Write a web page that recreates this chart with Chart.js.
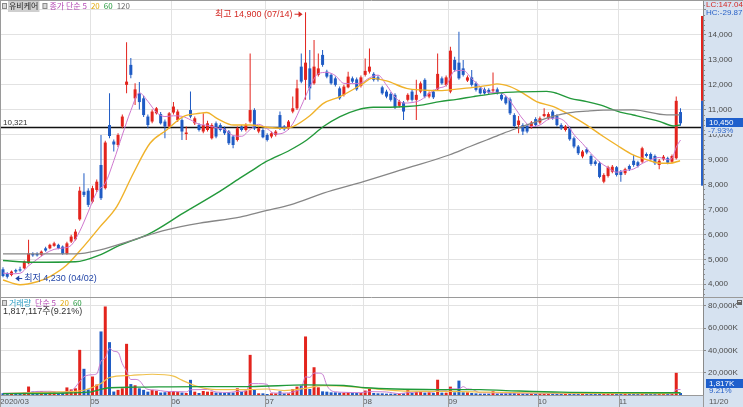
<!DOCTYPE html>
<html>
<head>
<meta charset="utf-8">
<script src="https://cdn.jsdelivr.net/npm/chart.js@4.4.1/dist/chart.umd.min.js"></script>
<style>
  html, body { margin: 0; padding: 0; background: #fff; }
  #wrap { position: relative; width: 743px; height: 407px; overflow: hidden; }
  canvas { position: absolute; left: 0; }
  #price { top: 0; }
  #vol { top: 297px; }
</style>
</head>
<body>
<div id="wrap">
  <canvas id="price" width="743" height="297"></canvas>
  <canvas id="vol" width="743" height="110"></canvas>
</div>
<script>
// x axis: trading-day index, 0 = 2020/04/01 ... 159 = 2020/11/20
const monthLabels = ["2020/03", "05", "06", "07", "08", "09", "10", "11"];
const monthAt = [-0.7, 20.5, 39.5, 61.5, 84.5, 104.5, 125.5, 144.5];
const priceTicks = [4000, 5000, 6000, 7000, 8000, 9000, 10000, 11000, 12000, 13000, 14000, 15000];
const volTicks = [20000, 40000, 60000, 80000];

const open = [4600,4440,4370,4570,4600,4640,4840,5220,5220,5180, 5440,5440,5540,5580,5510,5220,5710,5800,6600,7710,
  7750,7310,7780,8780,7850,10380,9720,9580,10320,11990, 12790,11450,11650,11450,10720,10520,10850,10820,10520,10320,
  10880,10580,10580,10020,10980,10450,10380,10120,10180,9850, 10450,10380,10250,10120,9920,9780,10320,10180,10520,10980,
  10120,10180,9980,9920,9980,10780,10320,10250,10920,11050, 12720,12190,12650,12050,12390,13190,12520,12390,12250,11850,
  11590,11890,12250,12210,11950,12390,12520,12430,12290,11890, 11720,11630,11590,11150,11280,11390,11720,11390,11720,12190,
  11520,11720,11810,12250,11990,11720,12990,12880,12650,12160, 12290,12050,11850,11810,11790,11760,11810,11590,11490,11410,
  10780,10380,10380,10340,10290,10620,10480,10740,10650,10920, 10740,10380,10180,10250,9850,9520,9120,9410,9140,8920,
  8850,8110,8340,8510,8690,8510,8450,8740,8950,8890, 8910,9220,9220,9140,8780,9010,9050,8910,9050,10900];
const high = [4680,4480,4550,4620,4700,4950,5780,5280,5280,5350, 5500,5620,5700,5620,5550,5700,5980,6200,7910,8450,
  7850,7950,8200,9980,9750,11650,9800,10050,10800,13700, 13070,12050,12100,11550,10800,11000,11100,10900,10600,10900,
  11300,11000,10650,10320,11720,10720,10450,10850,10550,10450, 10520,10450,10320,10180,9980,10320,10380,10450,13250,11050,
  10320,10250,10050,10120,10180,10920,10380,10580,11520,12190, 13250,14900,13390,13790,13250,13390,12600,12450,12320,11920,
  11990,12520,12320,12280,12360,13050,13450,12500,12360,11950, 11790,11690,11650,11390,11340,11650,11790,12190,12120,12250,
  11720,11790,13250,12320,12360,13520,13120,14120,12990,12360, 12590,12120,11920,11880,11850,12490,11880,11650,11550,11480,
  10850,10740,10450,10410,10540,10690,10720,11050,10890,10980, 10810,10450,10380,10320,9920,9580,9380,9480,9210,8980,
  8920,8450,8750,8780,8740,8580,8670,8800,9180,8950, 9510,9280,9280,9200,9020,9180,9110,9200,11520,11050];
const low = [4280,4230,4320,4450,4500,4600,4800,5100,5110,5120, 5300,5400,5500,5400,5180,5180,5650,5750,6550,7500,
  7100,7250,7700,7380,7800,9850,9320,9500,10250,11650, 12250,11180,11000,10700,10250,10450,10800,10400,9850,10250,
  10800,10500,9780,9780,10650,10380,10120,10050,10120,9800, 9850,10120,9980,9580,9450,9720,10120,10120,10450,10180,
  10050,9850,9720,9850,9920,10180,10150,10180,10850,10980, 12050,11390,11390,11990,12320,12720,12250,11990,11920,11390,
  11520,11850,12050,11750,11880,12320,12450,12120,12120,11590, 11450,11320,11020,11080,10580,11320,11320,10580,11650,11450,
  11450,11420,11750,11990,11920,11650,12520,12190,12320,12100, 11920,11720,11600,11600,11620,11650,11600,11350,11190,10780,
  10280,10050,9980,10050,10230,10320,10410,10690,10590,10590, 10320,10180,10120,9750,9450,9180,9050,9210,8750,8750,
  8250,8050,8280,8450,8320,8110,8380,8540,8710,8680, 8850,9080,8950,8780,8610,8950,8810,8850,9000,10350];
const close = [4330,4300,4510,4510,4550,4910,5240,5160,5160,5310, 5350,5580,5640,5440,5220,5640,5910,6110,7750,7580,
  7180,7850,8110,7450,9680,9940,9600,9980,10720,12120, 12390,11810,11300,10780,10380,10920,11050,10450,10320,10850,
  11120,10920,10120,10080,10720,10650,10180,10380,10450,10380, 9920,10180,10050,9650,9580,10250,10180,10380,10980,10250,
  10250,9890,9780,10050,10120,10250,10210,10520,11050,11850, 12120,12880,11850,12720,12650,12790,12320,12050,11990,11450,
  11920,12320,12120,11810,12290,12550,12720,12190,12190,11650, 11520,11390,11090,11320,10920,11590,11390,11590,12050,11520,
  11650,11490,12430,12050,12290,13360,12590,12250,12390,12290, 11990,11790,11650,11650,11680,11810,11650,11410,11250,10850,
  10340,10560,10120,10120,10480,10380,10650,10820,10820,10650, 10380,10250,10320,9810,9520,9250,9320,9280,8820,8820,
  8300,8380,8690,8710,8380,8380,8610,8610,8780,8740, 9450,9140,9010,8850,8950,9110,8870,9140,11350,10450];
// volume in thousands of shares
const volume = [1600,1800,1400,1600,1400,2200,7600,3100,3100,3600, 2800,2800,2500,1800,1800,6800,5000,6000,40500,23500,
  5000,16600,9400,57000,79400,47400,3100,4600,6000,45900, 9800,8700,6000,4600,3000,4600,3800,2200,2500,3000,
  3600,3000,2200,1800,13600,3000,1800,3600,3000,3000, 2200,2200,1800,2500,2200,6000,2900,4000,36000,4500,
  1500,1500,900,1500,1500,3300,1500,1500,5400,7500, 8400,52500,5400,24900,6900,3300,3000,2400,2400,2100,
  2100,2700,2100,1800,1800,4000,5400,1800,1500,1500, 1200,1200,1200,1200,1500,5400,1800,3000,3000,2100,
  2400,1800,13700,2100,2100,7500,2400,12900,2400,2400, 1800,1500,1200,1200,1200,3400,1300,1500,1500,1800,
  2000,1500,1300,1200,1200,1200,1300,1500,1200,1200, 1300,1100,1000,1300,1400,1300,1200,1000,1300,1000,
  1500,1300,1400,1100,1200,1000,1000,900,1200,900, 1800,1000,900,1000,1100,900,900,1100,19900,1817];

// moving averages: [index, value]
const ma5 = [[0,4450],[2,4420],[4,4440],[6,4740],[8,5000],[10,5240],[12,5400],[14,5450],[16,5560],[18,6120],[20,6900],
  [22,7690],[24,8050],[26,8950],[28,9980],[30,10960],[32,11670],[34,11330],[36,10890],[38,10720],[40,10750],[42,10730],
  [44,10590],[46,10410],[48,10370],[50,10270],[52,10200],[54,9960],[56,9930],[58,10200],[60,10410],[62,10230],[64,10020],
  [66,10080],[68,10430],[70,11140],[72,11900],[74,12440],[76,12490],[78,12360],[80,12050],[82,12040],[84,12060],[86,12270],
  [88,12380],[90,11980],[92,11500],[94,11260],[96,11280],[98,11380],[100,11640],[102,11850],[104,11970],[106,12550],
  [108,12570],[110,12240],[112,11920],[114,11690],[116,11690],[118,11560],[120,11100],[122,10620],[124,10320],[126,10380],
  [128,10610],[130,10660],[132,10500],[134,10000],[136,9640],[138,9240],[140,8900],[142,8670],[144,8490],[146,8560],
  [148,8620],[150,8840],[152,8990],[154,9080],[156,8990],[157,9040],[158,9490],[159,9780]];
const ma20 = [[0,4170],[4,3980],[8,4100],[11,4310],[14.9,4760],[18.9,5510],[22.8,6310],[26.7,7110],[30.6,8450],
  [34.5,9650],[38.4,10180],[42.3,10720],[46.2,10850],[47.8,10880],[50.2,10650],[54.1,10380],[58,10380],[62,10290],
  [65.8,10250],[68.1,10320],[72,10750],[75.2,11250],[79.1,11520],[84.6,12050],[86.5,12250],[90,12150],[94.7,11850],
  [98.6,11780],[102.5,11760],[106.5,11820],[110.4,11890],[114.3,11980],[115.9,12030],[119,11920],[122.1,11650],
  [125.2,11320],[129.2,11120],[133.1,10780],[137,10380],[140.9,9920],[144,9580],[147.9,9180],[151.8,8950],
  [154.2,8850],[156.5,8850],[158.9,8950]];
const ma60 = [[0,4950],[7,4880],[17,4900],[22.8,5180],[26.7,5510],[34.5,6040],[42.3,6850],[50.2,7650],[55.6,8250],
  [58,8510],[61.7,8910],[67.4,9380],[71.3,9780],[75.2,10320],[79.1,10720],[83,10980],[86.9,11090],[90.8,11090],
  [94.7,11120],[98.6,11190],[102.5,11320],[106.5,11410],[110.4,11520],[114.3,11620],[117.4,11680],[121.3,11710],
  [127.6,11730],[130,11650],[133.1,11450],[137,11320],[140.1,11185],[144.8,10900],[147.9,10784],[154.2,10517],
  [157.3,10344],[158.9,10384]];
const ma120 = [[0,5220],[17,5220],[22.8,5380],[30.6,5780],[38.4,6180],[46.2,6450],[55.6,6690],[61.7,6950],[67.4,7180],
  [75.2,7650],[84.6,8110],[94.8,8650],[104.7,9180],[109.6,9520],[113.5,9780],[117.4,10050],[121.3,10290],[125.2,10520],
  [129.2,10740],[133.1,10880],[137,10940],[140.9,10980],[147.9,10985],[155.8,10784],[158.9,10784]];
const volMa5 = [[0,1600],[5,1700],[8,3200],[11,3300],[14,2500],[16,3600],[18,12000],[19,16300],[21,18200],[22,19000],
  [23,30300],[24,33100],[25,41900],[26,39200],[27,38300],[28,28100],[29,21400],[30,13900],[31,14000],[32,12900],
  [33.7,5400],[36,4400],[38,3300],[40,3000],[42,2900],[43,2700],[44,4700],[46,4800],[48,5000],[50,2700],[53,2300],
  [55,3200],[57,3500],[58,10200],[60,10200],[62,9600],[63,2000],[65,1700],[67,1900],[68,2600],[69,3800],[70,5500],
  [71,16300],[72,15800],[73,19700],[74,19600],[75,18600],[76,8700],[77,4000],[78,2900],[80,2400],[84,2100],[86,3000],
  [88,2900],[90,2700],[93,1300],[95,2100],[97,2600],[99,3000],[101,2500],[102,4600],[104,4300],[105,5500],[107,5400],
  [108,7500],[109,5500],[110,5200],[112,2000],[115,1900],[117,1700],[120,1700],[125,1300],[130,1300],[135,1200],
  [140,1200],[145,1200],[150,1200],[155,1200],[157,1000],[158,4800],[159,4900]];
const volMa20 = [[0,1300],[12,2600],[17,3300],[19,4300],[23,10300],[25,15700],[30,17500],[35,18600],[40,17000],
  [42,13300],[46,7300],[50,4900],[58,4900],[62,5400],[66,4000],[71,6000],[75,8400],[80,8000],[85,6300],[90,4500],
  [95,3400],[105,3300],[114,2500],[125,1800],[140,1400],[155,1200],[159,2200]];
const volMa60 = [[0,1200],[15,1800],[20,2500],[25,6500],[31,7000],[46,7600],[58,7600],[71,9000],[80,8500],[85,6500],
  [102,4900],[112,4800],[118,4000],[131,2500],[145,2100],[159,2000]];

const lastClose = 10450, prevClose = 11350, baseLine = 10321;
const upperLimit = 14750, lowerLimit = 7950;
const highMark = { i: 71, v: 14900, text: "최고 14,900 (07/14)" };
const lowMark = { i: 1, v: 4230, text: "최저 4,230 (04/02)" };

const RED = "#e3241d", BLUE = "#1f5bc4";
const AXIS_BG = "#d6e2f0", GRID = "#e2e2e2";
const KR = '"Noto Sans CJK KR", sans-serif';
const X_MIN = -0.704, X_MAX = 164.28;

// pick a narrow face for the numbers if one is installed
function hasFont(name) {
  const c = document.createElement("canvas").getContext("2d");
  c.font = "20px monospace";
  const a = c.measureText("14,000 LC:147").width;
  c.font = `20px "${name}", monospace`;
  return c.measureText("14,000 LC:147").width !== a;
}
const narrow = hasFont("Liberation Sans Narrow");
const NUM = (narrow ? '"Liberation Sans Narrow", ' : '"Liberation Sans", ') + '"Noto Sans CJK KR", sans-serif';
const NUM_SIZE = narrow ? 9 : 8;

const idx = open.map((_, i) => i);
const candleColor = idx.map(i => close[i] >= open[i] ? RED : BLUE);

function lineSet(points, color, width) {
  return {
    type: "line", data: points.map(([x, y]) => ({ x, y })), borderColor: color, borderWidth: width,
    pointRadius: 0, cubicInterpolationMode: "monotone", order: 1
  };
}

function arrow(ctx, x1, x2, y, color) {
  const dir = x2 > x1 ? 1 : -1;
  ctx.strokeStyle = color; ctx.fillStyle = color; ctx.lineWidth = 1;
  ctx.beginPath(); ctx.moveTo(x1, y); ctx.lineTo(x2 - dir * 3, y); ctx.stroke();
  ctx.beginPath(); ctx.moveTo(x2, y); ctx.lineTo(x2 - dir * 4, y - 3); ctx.lineTo(x2 - dir * 4, y + 3); ctx.closePath(); ctx.fill();
}

function legendRow(ctx, x, y, parts) {
  ctx.textBaseline = "middle"; ctx.textAlign = "left";
  parts.forEach(p => {
    if (p.box) {
      ctx.fillStyle = "#8a8a8a"; ctx.fillRect(x, y - 3, 5, 6);
      ctx.fillStyle = "#d8d8d8"; ctx.fillRect(x + 1, y - 2, 3, 4);
      x += 7; return;
    }
    ctx.font = "8px " + KR;
    const w = ctx.measureText(p.t).width;
    if (p.bg) { ctx.fillStyle = p.bg; ctx.fillRect(x - 1, y - 6, w + 2, 12); }
    ctx.fillStyle = p.c; ctx.fillText(p.t, x, y);
    x += w + (p.gap || 4);
  });
}

const pricePlugin = {
  id: "priceDeco",
  beforeDraw(chart) {
    const { ctx, chartArea: a, width, height } = chart;
    ctx.save();
    ctx.fillStyle = "#fff"; ctx.fillRect(0, 0, width, height);
    ctx.fillStyle = AXIS_BG; ctx.fillRect(a.right, 0, width - a.right, height);
    ctx.restore();
  },
  beforeDatasetsDraw(chart) {
    const { ctx, chartArea: a, scales: { y } } = chart;
    const py = Math.round(y.getPixelForValue(baseLine)) + 0.5;
    ctx.save();
    ctx.strokeStyle = "#111"; ctx.lineWidth = 1.6;
    ctx.beginPath(); ctx.moveTo(a.left, py); ctx.lineTo(a.right, py); ctx.stroke();
    ctx.font = NUM_SIZE + "px " + NUM; ctx.fillStyle = "#333"; ctx.textBaseline = "bottom";
    ctx.fillText(baseLine.toLocaleString("en-US"), 3, py - 1);
    ctx.restore();
  },
  afterDraw(chart) {
    const { ctx, chartArea: a, scales: { x, y }, width, height } = chart;
    ctx.save();
    // limit range bar at the right edge of the plot
    const pc = y.getPixelForValue(prevClose);
    ctx.fillStyle = RED; ctx.fillRect(a.right - 2, y.getPixelForValue(upperLimit), 2, pc - y.getPixelForValue(upperLimit));
    ctx.fillStyle = "#2a62c8"; ctx.fillRect(a.right - 2, pc, 2, y.getPixelForValue(lowerLimit) - pc);
    // minor ticks on the price axis
    ctx.strokeStyle = "#8a8a8a"; ctx.lineWidth = 1;
    for (let v = 3600; v <= 15200; v += 200) {
      if (v % 1000 === 0) continue;
      const py = Math.round(y.getPixelForValue(v)) + 0.5;
      ctx.beginPath(); ctx.moveTo(a.right, py); ctx.lineTo(a.right + 2, py); ctx.stroke();
    }
    // high / low marks
    ctx.font = "9px " + NUM; ctx.textBaseline = "middle";
    const hx = x.getPixelForValue(highMark.i), hy = y.getPixelForValue(highMark.v) + 2;
    arrow(ctx, hx - 11, hx - 3, hy, "#d42a24");
    ctx.fillStyle = "#d42a24"; ctx.textAlign = "right"; ctx.fillText(highMark.text, hx - 13, hy);
    const lx = x.getPixelForValue(lowMark.i), ly = y.getPixelForValue(lowMark.v);
    arrow(ctx, lx + 15, lx + 8, ly, "#2346a8");
    ctx.fillStyle = "#2346a8"; ctx.textAlign = "left"; ctx.fillText(lowMark.text, lx + 17, ly);
    // legend
    legendRow(ctx, 2, 6, [
      { box: true }, { t: "유비케어", c: "#222", bg: "#cfcfcf", gap: 4 }, { box: true },
      { t: "종가 단순 5", c: "#b448b4" }, { t: "20", c: "#e2a90c" }, { t: "60", c: "#21973a" }, { t: "120", c: "#6a6a6a" }
    ]);
    // right-top indicators
    ctx.font = NUM_SIZE + "px " + NUM; ctx.textAlign = "left";
    ctx.fillStyle = "#d42a24"; ctx.fillText("LC:147.04", a.right + 3, 5);
    ctx.fillStyle = "#2a62c8"; ctx.fillText("HC:-29.87", a.right + 3, 13);
    // last price badge
    const cy = Math.round(y.getPixelForValue(lastClose)) - 1;
    ctx.fillStyle = "#1e5fcc"; ctx.fillRect(a.right + 3, cy - 4, width - a.right - 3, 9);
    ctx.fillStyle = "#fff"; ctx.fillText(lastClose.toLocaleString("en-US"), a.right + 6, cy + 0.5);
    ctx.fillStyle = AXIS_BG; ctx.fillRect(a.right + 4, cy + 5, 36, 7);
    ctx.fillStyle = "#2a62c8"; ctx.fillText("-7.93%", a.right + 5, cy + 8.5);
    // frame
    ctx.strokeStyle = "#9a9a9a";
    ctx.beginPath(); ctx.moveTo(0, 0.5); ctx.lineTo(width, 0.5); ctx.moveTo(0.5, 0); ctx.lineTo(0.5, height); ctx.stroke();
    ctx.restore();
  }
};

const volPlugin = {
  id: "volDeco",
  beforeDraw(chart) {
    const { ctx, chartArea: a, width, height } = chart;
    ctx.save();
    ctx.fillStyle = "#fff"; ctx.fillRect(0, 0, width, height);
    ctx.fillStyle = AXIS_BG;
    ctx.fillRect(a.right, 0, width - a.right, height);
    ctx.fillRect(0, a.bottom, width, height - a.bottom);
    ctx.restore();
  },
  afterDraw(chart) {
    const { ctx, chartArea: a, scales: { x }, width, height } = chart;
    ctx.save();
    ctx.strokeStyle = "#9a9a9a"; ctx.lineWidth = 1;
    ctx.beginPath();
    ctx.moveTo(0, 0.5); ctx.lineTo(width, 0.5);
    ctx.moveTo(0.5, 0); ctx.lineTo(0.5, height);
    monthAt.forEach(v => {
      const px = Math.round(x.getPixelForValue(v)) + 0.5;
      ctx.moveTo(px, a.bottom); ctx.lineTo(px, height);
    });
    ctx.moveTo(a.right + 0.5, a.bottom); ctx.lineTo(a.right + 0.5, height);
    ctx.stroke();
    legendRow(ctx, 2, 6, [
      { box: true }, { t: "거래량", c: "#2b9bc0" }, { t: "단순 5", c: "#b448b4" }, { t: "20", c: "#e2a90c" }, { t: "60", c: "#21973a" }
    ]);
    ctx.font = "9px " + NUM; ctx.fillStyle = "#333"; ctx.textAlign = "left"; ctx.textBaseline = "middle";
    ctx.fillText("1,817,117주(9.21%)", 3, 15);
    // small panel icon
    ctx.fillStyle = "#666"; ctx.fillRect(width - 6, 3, 5, 5);
    ctx.fillStyle = "#ddd"; ctx.fillRect(width - 5, 4, 3, 1);
    // last volume badge
    ctx.font = NUM_SIZE + "px " + NUM;
    ctx.fillStyle = "#1e5fcc"; ctx.fillRect(a.right + 3, 82, width - a.right - 3, 9);
    ctx.fillStyle = "#fff"; ctx.fillText("1,817K", a.right + 6, 86.5);
    ctx.fillStyle = "#2a62c8"; ctx.fillText("9.21%", a.right + 6, 94);
    ctx.fillStyle = "#555"; ctx.fillText("11/20", a.right + 6, a.bottom + 6.5);
    ctx.restore();
  }
};

const common = {
  responsive: false, animation: false, events: [], devicePixelRatio: 1,
  layout: { padding: 0 },
  plugins: { legend: { display: false }, tooltip: { enabled: false } }
};

new Chart(document.getElementById("price"), {
  type: "bar",
  data: {
    datasets: [
      { data: idx.map(i => ({ x: i, y: [low[i], high[i]] })), backgroundColor: candleColor, barThickness: 1, grouped: false, order: 3, inflateAmount: 0 },
      { data: idx.map(i => ({ x: i, y: [open[i], close[i]] })), backgroundColor: candleColor, barThickness: 3, grouped: false, order: 2, inflateAmount: 0 },
      lineSet(ma120, "#868686", 1.3),
      lineSet(ma60, "#23993b", 1.4),
      lineSet(ma20, "#f0b22a", 1.4),
      lineSet(ma5, "#cf78cf", 1)
    ]
  },
  options: {
    ...common,
    scales: {
      x: {
        type: "linear", min: X_MIN, max: X_MAX, offset: false,
        grid: { color: GRID, drawTicks: false, offset: false },
        border: { display: true, color: "#9a9a9a" },
        ticks: { display: false },
        afterBuildTicks(s) { s.ticks = monthAt.map(v => ({ value: v })); },
        afterFit(s) { s.height = 0; s.paddingLeft = 0; s.paddingRight = 0; }
      },
      y: {
        position: "right", min: 3490, max: 15390,
        grid: { color: GRID, drawTicks: true, tickLength: 3, tickColor: "#8a8a8a" },
        border: { display: true, color: "#8a8a8a" },
        afterBuildTicks(s) { s.ticks = priceTicks.map(v => ({ value: v })); },
        afterFit(s) { s.width = 40; s.paddingTop = 0; s.paddingBottom = 0; },
        ticks: {
          autoSkip: false, padding: 2, color: "#4a4a4a", font: { family: NUM, size: NUM_SIZE },
          callback: v => v >= 15000 ? "" : v.toLocaleString("en-US")
        }
      }
    }
  },
  plugins: [pricePlugin]
});

new Chart(document.getElementById("vol"), {
  type: "bar",
  data: {
    datasets: [
      { data: idx.map(i => ({ x: i, y: volume[i] })), backgroundColor: candleColor, barThickness: 3, grouped: false, order: 2, inflateAmount: 0 },
      lineSet(volMa60, "#1f9a3a", 1.3),
      lineSet(volMa20, "#efc04a", 1.2),
      lineSet(volMa5, "#c97fd2", 1)
    ]
  },
  options: {
    ...common,
    scales: {
      x: {
        type: "linear", min: X_MIN, max: X_MAX, offset: false,
        grid: { color: GRID, drawTicks: false, offset: false },
        border: { display: true, color: "#9a9a9a" },
        afterBuildTicks(s) { s.ticks = monthAt.map(v => ({ value: v })); },
        afterFit(s) { s.height = 12; s.paddingLeft = 0; s.paddingRight = 0; },
        ticks: {
          autoSkip: false, maxRotation: 0, align: "start", padding: 2, color: "#555",
          font: { family: NUM, size: NUM_SIZE }, callback: (v, i) => monthLabels[i]
        }
      },
      y: {
        position: "right", min: 0, max: 87900,
        grid: { color: GRID, drawTicks: true, tickLength: 3, tickColor: "#8a8a8a" },
        border: { display: true, color: "#8a8a8a" },
        afterBuildTicks(s) { s.ticks = volTicks.map(v => ({ value: v })); },
        afterFit(s) { s.width = 40; s.paddingTop = 0; s.paddingBottom = 0; },
        ticks: {
          autoSkip: false, padding: 2, color: "#4a4a4a", font: { family: NUM, size: NUM_SIZE },
          callback: v => v.toLocaleString("en-US") + "K"
        }
      }
    }
  },
  plugins: [volPlugin]
});
</script>
</body>
</html>
